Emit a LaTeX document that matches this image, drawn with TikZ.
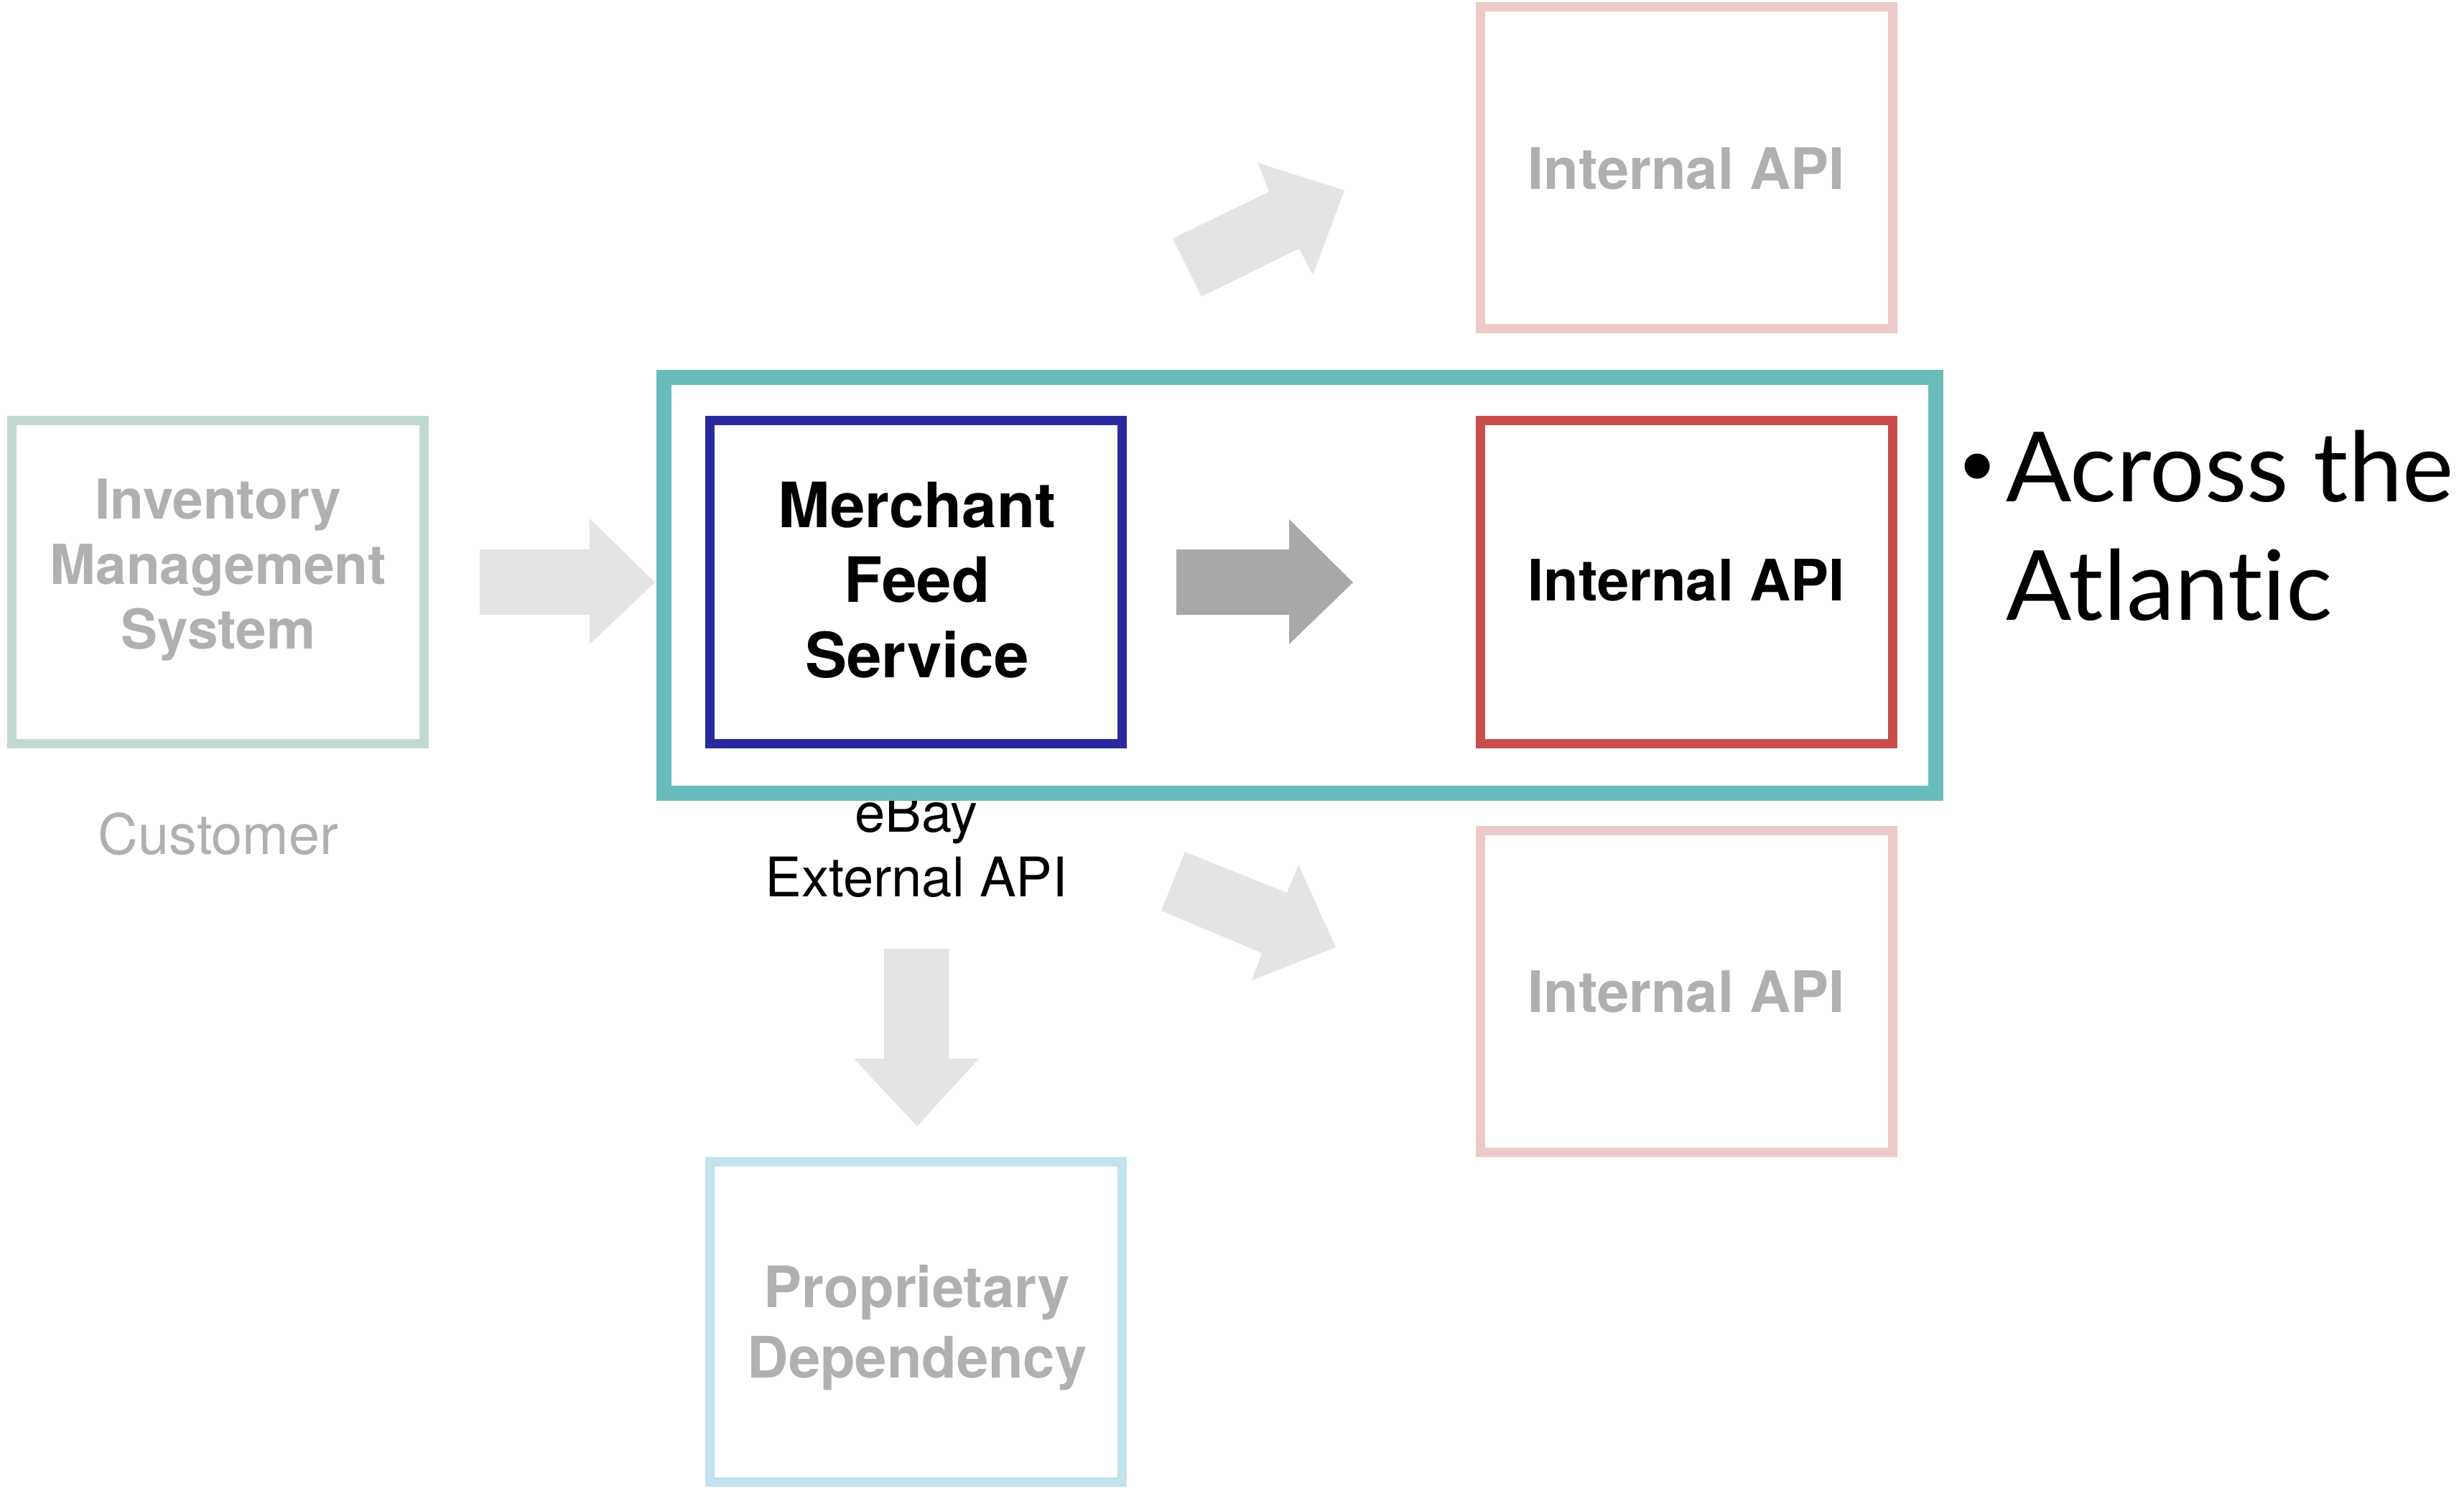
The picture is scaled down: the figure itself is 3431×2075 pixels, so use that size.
\documentclass[tikz,border=0pt]{standalone}
\usepackage{fontspec}
\setmainfont{TeX Gyre Heros}
\newfontfamily\gillfont[Ligatures={NoCommon,NoRequired,NoContextual}]{Lato}
\definecolor{txtgray}{HTML}{B0B0B0}
\definecolor{tealbox}{HTML}{68BCBA}
\definecolor{navybox}{HTML}{2A2A9E}
\definecolor{redbox}{HTML}{C84E4E}
\definecolor{pinkbox}{HTML}{EDC9CA}
\definecolor{greenbox}{HTML}{C0D9CE}
\definecolor{bluebox}{HTML}{C0E3EE}
\definecolor{arrlight}{HTML}{E3E4E4}
\definecolor{arrdark}{HTML}{A6A9A8}
\begin{document}
\begin{tikzpicture}[x=1pt,y=-1pt,
  sysbox/.style={draw=#1, line width=13pt, fill=white, minimum width=574pt, minimum height=450pt, inner sep=0pt},
  bigtxt/.style={anchor=base, inner sep=0pt, font=\fontsize{#1}{#1}\selectfont\bfseries},
  regtxt/.style={anchor=base, inner sep=0pt, font=\fontsize{#1}{#1}\selectfont},
  lightarrow/.style={fill=arrlight},
  darkarrow/.style={fill=arrdark}]
\useasboundingbox (0,0) rectangle (3431,2075);

% boxes
\node[sysbox=greenbox] (ims) at (303,810) {};
\node[sysbox=navybox] (mfs) at (1275,810) {};
\node[sysbox=redbox] (apimid) at (2348,810) {};
\node[sysbox=pinkbox, minimum height=448pt] (apitop) at (2348,233) {};
\node[sysbox=pinkbox, minimum height=448pt] (apibot) at (2348,1380) {};
\node[sysbox=bluebox, minimum height=446pt] (prop) at (1275,1840) {};

% texts
\node[bigtxt=76.5, text=txtgray] (ims1) at (304,722) {Inventory};
\node[bigtxt=76.5, text=txtgray] (ims2) at (304,813) {Management};
\node[bigtxt=76.5, text=txtgray] (ims3) at (304,903) {System};
\node[regtxt=77.5, text=txtgray] (cust) at (304,1189) {Customer};

\node[bigtxt=87] (mfs1) at (1277,734) {Merchant};
\node[bigtxt=87] (mfs2) at (1277,838) {Feed};
\node[bigtxt=87] (mfs3) at (1277,943) {Service};

\node[regtxt=76] (ebay1) at (1276,1158) {eBay};
\node[regtxt=76] (ebay2) at (1276,1248) {External API};

\node[bigtxt=79.5] (apimidt) at (2348,836) {Internal API};
\node[bigtxt=79.5, text=txtgray] (apitopt) at (2348,263) {Internal API};
\node[bigtxt=79.5, text=txtgray] (apibott) at (2348,1409) {Internal API};

\node[bigtxt=79.5, text=txtgray] (prop1) at (1277,1820) {Proprietary};
\node[bigtxt=79.5, text=txtgray] (prop2) at (1277,1918) {Dependency};

% scope frame
\node[draw=tealbox, line width=21pt, minimum width=1771pt, minimum height=579pt, inner sep=0pt] (scopebox) at (1809.5,814.5) {};

% block arrows
\fill[lightarrow] (668,765) -- (821,765) -- (821,722) -- (912,811) -- (821,897) -- (821,856) -- (668,856) -- cycle;
\fill[darkarrow] (1638,765) -- (1795,765) -- (1795,723) -- (1884,811) -- (1795,897) -- (1795,856) -- (1638,856) -- cycle;
\fill[lightarrow] (1231,1321) -- (1321,1321) -- (1321,1474) -- (1363,1474) -- (1277,1568) -- (1189,1474) -- (1231,1474) -- cycle;
\fill[lightarrow] (1633,332) -- (1767,267) -- (1752,227) -- (1872,265) -- (1828,383) -- (1809,346) -- (1673,413) -- cycle;
\fill[lightarrow] (1650,1186) -- (1792,1243) -- (1808,1204) -- (1860,1319) -- (1743,1365) -- (1757,1327) -- (1617,1268) -- cycle;

% bullet text
\fill (2753,649) circle (17.5pt);
\node[anchor=base west, inner sep=0pt, font=\gillfont\fontsize{135}{135}\selectfont] (across) at (2793,698) {Across the};
\node[anchor=base west, inner sep=0pt, font=\gillfont\fontsize{135}{135}\selectfont] (atlantic) at (2793,863) {Atlant\kern0pt ic};
\end{tikzpicture}
\end{document}
